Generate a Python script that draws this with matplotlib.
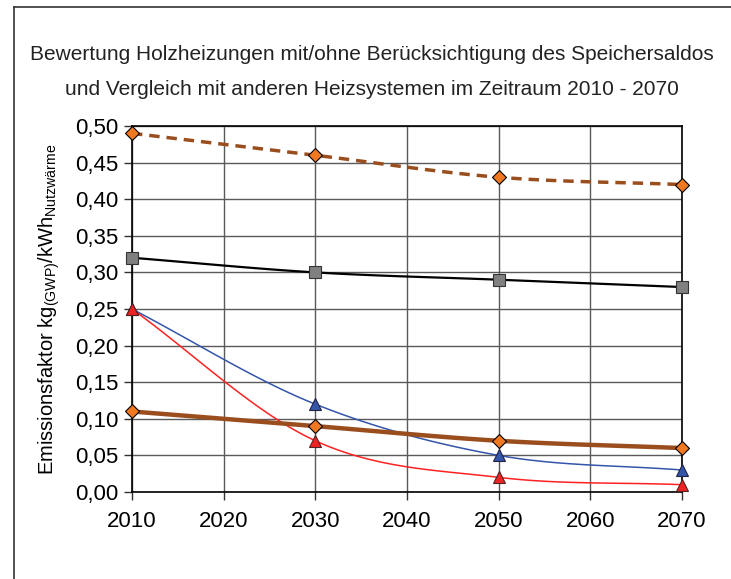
import numpy as np
import matplotlib
matplotlib.use('Agg')
import matplotlib.pyplot as plt
from matplotlib.lines import Line2D

plt.rcParams['font.family'] = ['Liberation Sans', 'DejaVu Sans']
plt.rcParams['mathtext.fontset'] = 'custom'
plt.rcParams['mathtext.rm'] = 'Liberation Sans'

years = [2010, 2030, 2050, 2070]
holz_ohne = [0.49, 0.46, 0.43, 0.42]      # dashed brown, orange diamonds
fossil = [0.32, 0.30, 0.29, 0.28]         # black, grey squares
blau = [0.25, 0.12, 0.05, 0.03]           # blue, triangles
rot = [0.25, 0.07, 0.02, 0.01]            # red, triangles
holz_mit = [0.11, 0.09, 0.07, 0.06]       # thick brown, orange diamonds

title = ('Bewertung Holzheizungen mit/ohne Berücksichtigung des Speichersaldos\n'
         'und Vergleich mit anderen Heizsystemen im Zeitraum 2010 - 2070')


def smooth(x, y, n=40):
    """Catmull-Rom style smoothing like Excel's smoothed lines."""
    x = np.asarray(x, float)
    y = np.asarray(y, float)
    px = np.concatenate([[2 * x[0] - x[1]], x, [2 * x[-1] - x[-2]]])
    py = np.concatenate([[2 * y[0] - y[1]], y, [2 * y[-1] - y[-2]]])
    xs, ys = [], []
    t = np.linspace(0, 1, n)
    for i in range(1, len(px) - 2):
        p0, p1, p2, p3 = (np.array([px[j], py[j]]) for j in range(i - 1, i + 3))
        c1 = p1 + (p2 - p0) / 6
        c2 = p2 - (p3 - p1) / 6
        b = ((1 - t) ** 3)[:, None] * p1 + (3 * (1 - t) ** 2 * t)[:, None] * c1 \
            + (3 * (1 - t) * t ** 2)[:, None] * c2 + (t ** 3)[:, None] * p2
        xs.extend(b[:, 0])
        ys.extend(b[:, 1])
    return np.array(xs), np.array(ys)


fig = plt.figure(figsize=(7.31, 5.79), dpi=100)
ax = fig.add_axes([132 / 731, 1 - 492 / 579, 550 / 731, 366 / 579])

# outer chart frame (left and top edges visible)
fig.add_artist(Line2D([14 / 731, 14 / 731], [0, 1 - 7 / 579], color='#333333', lw=1.2))
fig.add_artist(Line2D([14 / 731, 1], [1 - 7 / 579, 1 - 7 / 579], color='#333333', lw=1.2))

orange = '#F07820'
brown = '#9A4E1E'
mk = dict(ls='none', clip_on=False, zorder=5, mew=0.8)

x, y = smooth(years, holz_ohne)
ax.plot(x, y, color=brown, lw=2.5, ls=(0, (3, 2)), zorder=3)
ax.plot(years, holz_ohne, marker='D', ms=7, mfc=orange, mec='black', **mk)

x, y = smooth(years, fossil)
ax.plot(x, y, color='black', lw=1.6, zorder=3)
ax.plot(years, fossil, marker='s', ms=8, mfc='#808080', mec='#333333', **mk)

x, y = smooth(years, blau)
ax.plot(x, y, color='#3355AA', lw=1.1, zorder=3)
ax.plot(years, blau, marker='^', ms=8, mfc='#3355AA', mec='#222244', **mk)

x, y = smooth(years, rot)
ax.plot(x, y, color='#FF2222', lw=1.1, zorder=3)
ax.plot(years, rot, marker='^', ms=8, mfc='#EE2222', mec='#552222', **mk)

x, y = smooth(years, holz_mit)
ax.plot(x, y, color=brown, lw=3.2, zorder=4)
ax.plot(years, holz_mit, marker='D', ms=7, mfc=orange, mec='black', **mk)

ax.set_xlim(2010, 2070)
ax.set_ylim(0, 0.5)
ax.set_xticks(range(2010, 2071, 10))
yt = np.round(np.arange(0, 0.501, 0.05), 2)
ax.set_yticks(yt)
ax.set_yticklabels([f'{v:.2f}'.replace('.', ',') for v in yt])
ax.tick_params(axis='both', labelsize=16, direction='out', length=6, width=1, color='#333333')
ax.tick_params(axis='x', pad=8)
ax.grid(True, color='#5a5a5a', lw=1.0)
ax.set_axisbelow(True)
for s in ax.spines.values():
    s.set_color('black')
    s.set_linewidth(1.2)

ax.set_ylabel(r'Emissionsfaktor kg$_{\mathregular{(GWP)}}$/kWh$_{\mathregular{Nutzwärme}}$',
              fontsize=14.5, labelpad=10)

fig.text(372 / 731, 1 - 72 / 579, title, ha='center', va='center', fontsize=15,
         linespacing=2.05, color='#222222')

fig.savefig('out.png', dpi=100)
